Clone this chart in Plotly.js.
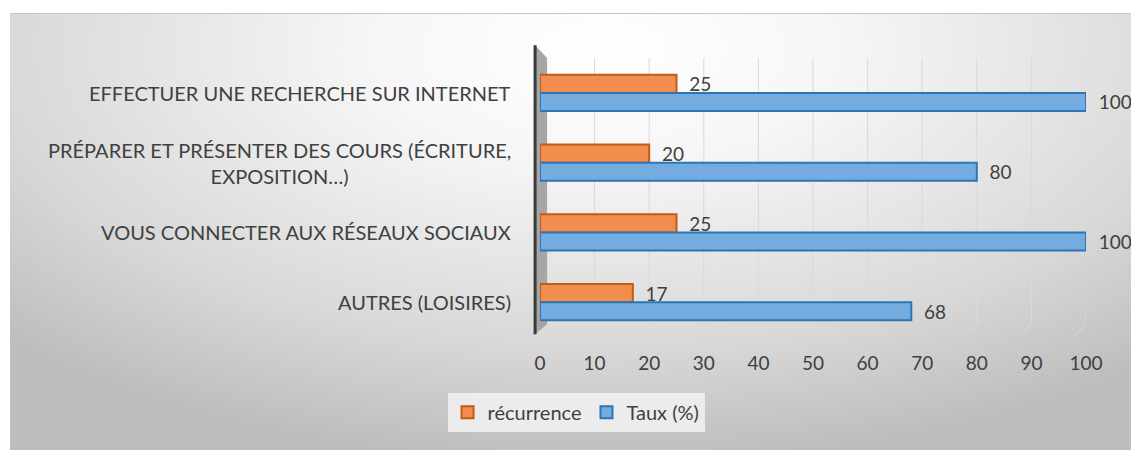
<!DOCTYPE html>
<html>
<head>
<meta charset="utf-8">
<script src="https://cdn.plot.ly/plotly-3.0.1.min.js"></script>
<style>
  html, body { margin: 0; padding: 0; background: #ffffff; }
  #bg {
    position: absolute; left: 10px; top: 13px; width: 1121px; height: 437px;
    background: radial-gradient(ellipse 75% 95% at 53% 8%, #ffffff 0%, #f6f6f6 28%, #d8d8d8 72%, #bdbdbd 100%);
    border-top: 1px solid #c8c8c8;
  }
  #BarChartPlot { position: absolute; left: 0; top: 0; width: 1131px; height: 450px; }
</style>
</head>
<body>
<div id="bg"></div>
<div id="BarChartPlot"></div>
<script>
// categories, top to bottom
let categories = [
    "EFFECTUER UNE RECHERCHE SUR INTERNET",
    "PRÉPARER ET PRÉSENTER DES COURS (ÉCRITURE,<br>EXPOSITION…)",
    "VOUS CONNECTER AUX RÉSEAUX SOCIAUX",
    "AUTRES (LOISIRES)"
];
let recurrence = [25, 20, 25, 17];
let taux = [100, 80, 100, 68];
let xTicks = [0, 10, 20, 30, 40, 50, 60, 70, 80, 90, 100];

let textColor = "#404040";
let fontFamily = "Lato, 'Open Sans', sans-serif";
let pad = "\u00a0\u00a0"; // small gap between bar end and its value

let recurrenceTrace = {
    y: categories,
    x: recurrence,
    name: "récurrence",
    type: "bar",
    orientation: "h",
    text: recurrence.map(v => pad + v),
    textposition: "outside",
    constraintext: "none",
    textfont: { size: 19, color: textColor },
    cliponaxis: false,
    marker: { color: "#F08D4F", line: { color: "#C55A11", width: 2 } }
};

let tauxTrace = {
    y: categories,
    x: taux,
    name: "Taux (%)",
    type: "bar",
    orientation: "h",
    text: taux.map(v => pad + v),
    textposition: "outside",
    constraintext: "none",
    textfont: { size: 19, color: textColor },
    cliponaxis: false,
    marker: { color: "#74ACE0", line: { color: "#2E75B6", width: 2 } }
};

// category labels drawn as annotations so wrapped lines stay centred
let catLabels = categories.map(c => ({
    xref: "paper", yref: "y",
    x: -0.049, y: c,
    xanchor: "right", yanchor: "middle",
    align: "center",
    text: c,
    showarrow: false,
    font: { size: 20, color: textColor, family: fontFamily }
}));

// gridlines standing on a thin 3D floor
let gridShapes = [];
xTicks.forEach(t => {
    if (t === 0) return;
    gridShapes.push({
        type: "line", xref: "x", yref: "paper", layer: "below",
        x0: t, x1: t, y0: 0.046, y1: 1.0,
        line: { color: "#d9d9d9", width: 1 }
    });
    gridShapes.push({
        type: "line", xref: "x", yref: "paper", layer: "below",
        x0: t, x1: t - 2.4, y0: 0.046, y1: 0.0,
        line: { color: "#d9d9d9", width: 1 }
    });
});

let layout = {
    width: 1131,
    height: 450,
    paper_bgcolor: "rgba(0,0,0,0)",
    plot_bgcolor: "rgba(0,0,0,0)",
    barmode: "group",
    bargap: 0.48,
    bargroupgap: 0,
    showlegend: true,
    font: { family: fontFamily, size: 19, color: textColor },
    margin: { l: 540, r: 45, t: 58, b: 113, pad: 0 },
    xaxis: {
        range: [0, 100],
        tickvals: xTicks,
        showgrid: false,
        zeroline: false,
        showline: false,
        ticks: "",
        ticklabelstandoff: 13,
        tickfont: { size: 19, color: textColor }
    },
    yaxis: {
        autorange: "reversed",
        showticklabels: false,
        showgrid: false,
        zeroline: false,
        showline: false,
        ticks: ""
    },
    legend: {
        orientation: "h",
        x: 0.066, xanchor: "center",
        y: -0.2, yanchor: "top",
        traceorder: "normal",
        bgcolor: "rgba(242,242,242,0.85)",
        font: { size: 20, color: textColor },
        itemwidth: 30
    },
    annotations: catLabels,
    shapes: gridShapes.concat([
        // side wall of the 3D plot
        {
            type: "path", xref: "paper", yref: "paper",
            path: "M -0.009 1.046 L 0.013 1.0 L 0.013 0.046 L -0.009 0.01 Z",
            fillcolor: "#a6a6a6", line: { width: 0 }, layer: "below"
        },
        {
            type: "line", xref: "paper", yref: "paper",
            x0: -0.009, x1: -0.009, y0: 0.01, y1: 1.046,
            line: { color: "#3a3a3a", width: 3 }
        }
    ])
};

let dataTrace = [recurrenceTrace, tauxTrace];

Plotly.newPlot("BarChartPlot", dataTrace, layout, { displayModeBar: false, staticPlot: true });
</script>
</body>
</html>
